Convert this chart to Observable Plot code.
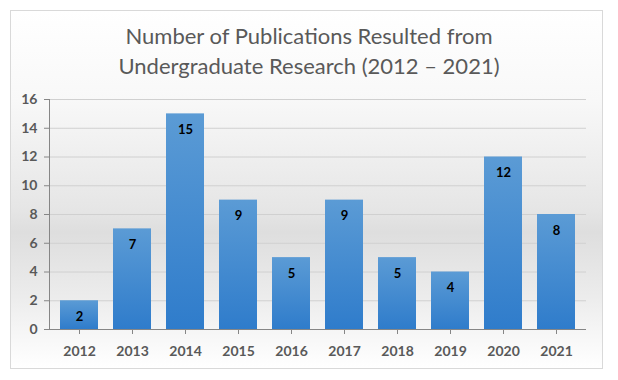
<!DOCTYPE html>
<html><head><meta charset="utf-8">
<script src="https://cdn.jsdelivr.net/npm/d3@7"></script>
<script src="https://cdn.jsdelivr.net/npm/@observablehq/plot@0.6"></script>
<style>
body{margin:0;background:#fff;}
#wrap{position:relative;width:618px;height:380px;}
#frame{position:absolute;left:10px;top:10px;width:591px;height:357px;border:1px solid #d9d9d9;
 background:linear-gradient(to bottom,#ffffff 0%,#f8f8f8 25%,#e6e6e6 55%,#dedede 62%,#ececec 80%,#f6f6f6 90%,#ffffff 100%);}
#title{position:absolute;left:0;top:21px;width:618px;text-align:center;font-family:Lato,"Open Sans",sans-serif;font-size:22px;line-height:30px;color:#595959;}
#chart{position:absolute;left:0;top:0;}
</style></head><body>
<div id="wrap"><div id="frame"></div>
<div id="title">Number of Publications Resulted from<br>Undergraduate Research (2012 – 2021)</div>
<div id="chart"></div></div>
<script>
const years = ["2012","2013","2014","2015","2016","2017","2018","2019","2020","2021"];
const counts = [2,7,15,9,5,9,5,4,12,8];
const yTicks = [0,2,4,6,8,10,12,14,16];
const data = years.map((y,i)=>({year:y,count:counts[i]}));
const font = 'Lato,"Open Sans",sans-serif';
const plot = Plot.plot({
  width:618, height:380,
  marginLeft:49, marginRight:32, marginTop:99, marginBottom:51,
  style:{background:"transparent",fontFamily:font},
  x:{domain:years,paddingInner:0.29,paddingOuter:0.145,label:null},
  y:{domain:[0,16],ticks:yTicks,label:null},
  marks:[
    Plot.gridY(yTicks.filter(d=>d>0),{stroke:"#d0d0d0",strokeOpacity:1,strokeWidth:1}),
    Plot.barY(data,{x:"year",y:"count",fill:"url(#barGrad)"}),
    Plot.text(data,{x:"year",y:"count",text:d=>String(d.count),dy:16,fontWeight:"bold",fontSize:13,fill:"#000"}),
    Plot.ruleY([0],{stroke:"#868686"}),
    Plot.axisY({ticks:yTicks,tickSize:5,tickPadding:7,fontSize:14,fontWeight:"bold",color:"#595959",stroke:"#868686"}),
    Plot.axisX({tickSize:5,tickPadding:12,fontSize:14,fontWeight:"bold",color:"#595959"})
  ]
});
const svg = d3.select(plot);
const defs = svg.insert("defs",":first-child");
const g = defs.append("linearGradient").attr("id","barGrad").attr("x1",0).attr("y1",0).attr("x2",0).attr("y2",1);
g.append("stop").attr("offset","0%").attr("stop-color","#5b9bd5");
g.append("stop").attr("offset","100%").attr("stop-color","#2f7ccb");
svg.append("line").attr("x1",49.5).attr("x2",49.5).attr("y1",99).attr("y2",329).attr("stroke","#868686");
svg.selectAll("[aria-label='x-axis tick'] path, [aria-label='y-axis tick'] path").attr("stroke","#868686");
document.getElementById("chart").appendChild(plot);
</script></body></html>
